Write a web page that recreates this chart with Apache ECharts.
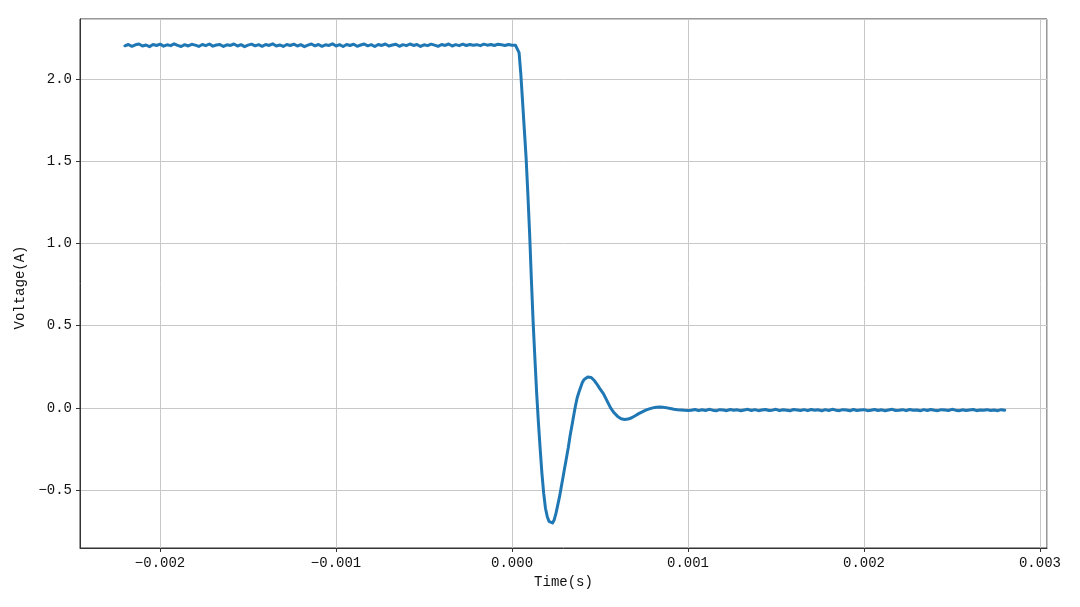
<!DOCTYPE html>
<html>
<head>
<meta charset="utf-8">
<script src="https://cdn.jsdelivr.net/npm/echarts@6/dist/echarts.min.js"></script>
<style>html,body{margin:0;padding:0;background:#fff;}#c{width:1080px;height:607px;}</style>
</head>
<body>
<div id="c"></div>
<script>
// Each recorded segment: first sample time (s) and sample spacing (s)
const beforeStart = -0.0022,   beforeStep = 0.00002;
const transientStart = 0.0,    transientStep = 0.00001;
const ringStart = 0.00052,     ringStep = 0.00002;
const afterStart = 0.00102,    afterStep = 0.00002;

// Voltage: flat level before the switching instant (-0.0022 .. -0.00002 s)
const voltageBefore = [
2.201,2.209,2.198,2.207,2.212,2.200,2.206,2.196,2.209,2.203,
2.211,2.199,2.207,2.202,2.213,2.204,2.197,2.208,2.200,2.210,
2.205,2.197,2.209,2.202,2.212,2.199,2.206,2.209,2.197,2.207,
2.203,2.212,2.200,2.208,2.196,2.205,2.211,2.201,2.208,2.198,
2.209,2.203,2.213,2.200,2.206,2.197,2.209,2.203,2.211,2.200,
2.208,2.196,2.205,2.212,2.201,2.209,2.198,2.207,2.203,2.213,
2.200,2.208,2.197,2.209,2.203,2.211,2.198,2.206,2.212,2.201,
2.208,2.197,2.209,2.203,2.212,2.200,2.206,2.211,2.198,2.208,
2.202,2.212,2.203,2.209,2.197,2.207,2.202,2.211,2.205,2.198,
2.209,2.203,2.212,2.200,2.208,2.202,2.211,2.203,2.209,2.205,
2.208,2.202,2.211,2.205,2.209,2.203,2.211,2.207,2.203,2.209
];
// Voltage: fall, undershoot and first overshoot (0 .. 0.0005 s)
const voltageTransient = [
2.205,2.207,2.204,2.200,2.160,2.030,1.860,1.690,1.520,1.300,
1.060,0.780,0.520,0.300,0.090,-0.090,-0.250,-0.400,-0.520,-0.610,
-0.660,-0.690,-0.700,-0.700,-0.680,-0.640,-0.590,-0.540,-0.480,-0.420,
-0.360,-0.300,-0.240,-0.170,-0.110,-0.050,0.010,0.060,0.095,0.125,
0.155,0.173,0.182,0.187,0.188,0.185,0.176,0.163,0.148,0.132,
0.115
];
// Voltage: damped ringing (0.00052 .. 0.001 s)
const voltageRing = [
0.085,0.042,0.000,-0.030,-0.052,-0.066,-0.071,-0.068,-0.060,-0.048,
-0.035,-0.024,-0.014,-0.006,0.000,0.004,0.005,0.003,0.000,-0.004,
-0.008,-0.011,-0.013,-0.015,-0.016
];
// Voltage: settled level (0.00102 .. 0.0028 s)
const voltageAfter = [
-0.014,-0.010,-0.017,-0.012,-0.016,-0.009,-0.014,-0.018,-0.011,-0.013,
-0.017,-0.010,-0.015,-0.012,-0.018,-0.013,-0.009,-0.016,-0.011,-0.017,
-0.013,-0.010,-0.016,-0.014,-0.009,-0.017,-0.012,-0.014,-0.018,-0.010,
-0.013,-0.016,-0.011,-0.017,-0.010,-0.014,-0.012,-0.018,-0.011,-0.016,
-0.009,-0.014,-0.017,-0.011,-0.013,-0.018,-0.010,-0.016,-0.013,-0.011,
-0.017,-0.014,-0.010,-0.016,-0.012,-0.018,-0.013,-0.009,-0.016,-0.014,
-0.011,-0.017,-0.010,-0.014,-0.013,-0.018,-0.011,-0.016,-0.010,-0.014,
-0.017,-0.011,-0.013,-0.016,-0.009,-0.014,-0.018,-0.012,-0.016,-0.013,
-0.010,-0.017,-0.013,-0.014,-0.011,-0.016,-0.013,-0.017,-0.011,-0.014
];

const xTickLabels = ['-0.002','-0.001','0.000','0.001','0.002','0.003'];
const yTickLabels = ['-0.5','0.0','0.5','1.0','1.5','2.0'];
const xAxisName = 'Time(s)';
const yAxisName = 'Voltage(A)';

function toPoints(start, step, values) {
  return values.map((v, i) => [+(start + i * step).toFixed(6), v]);
}
const points = [].concat(
  toPoints(beforeStart, beforeStep, voltageBefore),
  toPoints(transientStart, transientStep, voltageTransient),
  toPoints(ringStart, ringStep, voltageRing),
  toPoints(afterStart, afterStep, voltageAfter)
);

const FONT = '"Liberation Mono", "DejaVu Sans Mono", monospace';
const xTickSet = xTickLabels.map(Number);
const yTickSet = yTickLabels.map(Number);
function labelFor(list, labels, v, eps) {
  const i = list.findIndex(t => Math.abs(t - v) < eps);
  return i < 0 ? '' : labels[i].replace('-', '\u2212');
}

const chart = echarts.init(document.getElementById('c'), null, {renderer: 'canvas'});
chart.setOption({
  animation: false,
  backgroundColor: '#ffffff',
  grid: {left: 80, right: 33, top: 19, bottom: 59, show: true, borderColor: '#333333', borderWidth: 1, backgroundColor: 'transparent'},
  xAxis: {
    type: 'value', min: -0.002455, max: 0.00304, splitNumber: 5,
    name: xAxisName, nameLocation: 'middle', nameGap: 25,
    nameTextStyle: {fontFamily: FONT, fontSize: 14, color: '#111'},
    axisLine: {show: true, onZero: false, lineStyle: {color: '#333', width: 1}},
    axisTick: {show: true, inside: false, length: 4, lineStyle: {color: '#333'}},
    axisLabel: {
      fontFamily: FONT, fontSize: 14, color: '#111', margin: 8,
      showMinLabel: false, showMaxLabel: false,
      formatter: v => labelFor(xTickSet, xTickLabels, v, 1e-7)
    },
    splitLine: {show: true, lineStyle: {color: '#c8c8c8', width: 1}}
  },
  yAxis: {
    type: 'value', min: -0.852, max: 2.364, splitNumber: 5,
    name: yAxisName, nameLocation: 'middle', nameGap: 44,
    nameTextStyle: {fontFamily: FONT, fontSize: 14, color: '#111', padding: [0, 8, 0, 0]},
    axisLine: {show: true, onZero: false, lineStyle: {color: '#333', width: 1}},
    axisTick: {show: true, inside: false, length: 4, lineStyle: {color: '#333'}},
    axisLabel: {
      fontFamily: FONT, fontSize: 14, color: '#111', margin: 8,
      showMinLabel: false, showMaxLabel: false,
      formatter: v => labelFor(yTickSet, yTickLabels, v, 1e-6)
    },
    splitLine: {show: true, lineStyle: {color: '#c8c8c8', width: 1}}
  },
  series: [{
    type: 'line', data: points, showSymbol: false, symbol: 'none',
    lineStyle: {color: '#1f77b4', width: 3, join: 'round', cap: 'round'},
    itemStyle: {color: '#1f77b4'}
  }]
});
</script>
</body>
</html>
